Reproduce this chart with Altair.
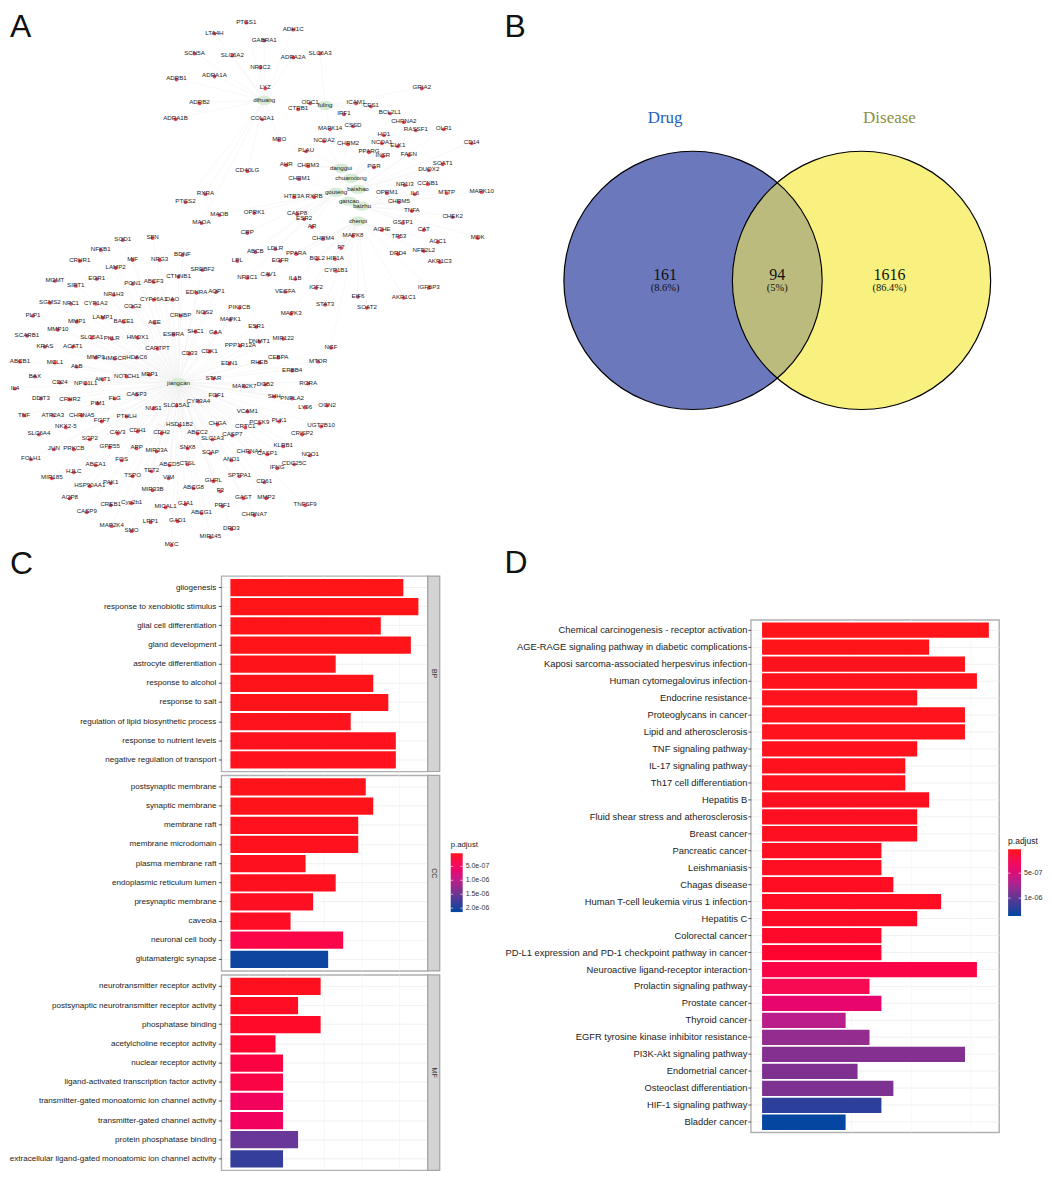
import altair as alt
import pandas as pd

FONT = "Liberation Sans"

# ---------- Panel A: herb / target network (layout position of every node) ----------
herb_names = ["dihuang", "fuling", "danggui", "chuanxiong", "baishao", "gouteng", "gancao", "baizhu", "chenpi", "jiangcan"]
herb_x = [263, 324, 340, 350, 357, 335, 348, 361, 357, 177]
herb_y = [99, 104, 167, 177, 188, 191, 200, 205, 220, 382]

gene_names_1 = ["PTGS1", "LTA4H", "SCN5A", "SLC6A2", "ADRB1", "ADRA1A", "ADRB2", "ADRA1B", "GABRA1", "NR3C2",
                "COL3A1", "CD40LG", "RXRA", "PTGS2", "MAOB", "MAOA", "OPRK1", "CRP", "ABCB", "SOD1",
                "SFN", "NFKB1", "MIF", "NRG3", "BDNF", "LPL", "CRHR1", "LAMP2", "SREBF2"]
gene_x_1 = [245, 213, 193, 231, 175, 213, 198, 174, 263, 259,
            261, 246, 204, 184, 218, 200, 253, 246, 254, 121,
            151, 99, 131, 158, 181, 236, 78, 114, 201]
gene_y_1 = [20, 31, 51, 53, 77, 74, 101, 117, 38, 65,
            117, 169, 192, 200, 213, 221, 211, 231, 250, 238,
            236, 248, 258, 258, 253, 259, 259, 266, 268]

gene_names_2 = ["ADH1C", "ADRA2A", "SLC6A3", "LYZ", "GRIA2", "ODC1", "CTRB1", "ICAM1", "CES1", "BCL2L1",
                "IRF1", "CHRNA2", "RASSF1", "OLR1", "MAPK14", "CSSD", "MPO", "NCOA2", "CHRM2", "HO1",
                "NCOA1", "ELK1", "CD14", "PLAU", "PPARG", "INSR", "FASN", "AHR", "CHRM3", "PGR",
                "SOAT1", "DUOX2", "CHRM1", "NR1I3", "CCNB1", "HTR3A", "RXRB", "OPRM1", "IL6", "MTTP",
                "MAPK10", "CHRM5", "TNFA", "CHEK2", "CASP8", "ESR2", "GSTP1", "AR", "ACHE", "CAT",
                "MAPK8", "TP53", "MDK", "CHRM4", "AOC1", "F7", "LDLR", "NFE2L2", "PPARA", "DRD4",
                "BCL2", "HIF1A", "EGFR", "AKR1C3", "CYP1B1"]
gene_x_2 = [292, 292, 319, 264, 421, 309, 297, 355, 370, 389,
            343, 403, 415, 443, 329, 352, 278, 323, 347, 383,
            381, 397, 471, 305, 368, 382, 408, 285, 307, 373,
            442, 428, 298, 404, 427, 293, 313, 386, 414, 446,
            481, 398, 411, 452, 296, 303, 402, 311, 381, 423,
            352, 398, 477, 322, 437, 340, 274, 423, 295, 397,
            316, 334, 279, 439, 335]
gene_y_2 = [27, 55, 51, 86, 86, 101, 107, 101, 104, 111,
            112, 120, 128, 127, 127, 124, 138, 139, 142, 133,
            141, 144, 141, 149, 150, 154, 153, 163, 164, 165,
            162, 168, 177, 183, 182, 195, 195, 191, 192, 191,
            190, 200, 209, 215, 212, 217, 221, 225, 228, 228,
            234, 235, 236, 237, 240, 246, 247, 249, 252, 252,
            257, 257, 259, 260, 269]

gene_names_3 = ["MGMT", "SIRT1", "EGR1", "PON1", "ABCF3", "CTNNB1", "NR3C1", "NR1H3", "CYP46A1", "DAO",
                "EDNRA", "AQP1", "SGMS2", "NPC1", "CYP1A2", "COG2", "PIK3CB", "PLP1", "MMP1", "LAMP1",
                "BACE1", "ACE", "CRHBP", "NOS2", "MAPK1", "MMP10", "ESR1", "SCARB1", "SLC5A1", "PKLR",
                "HMOX1", "ESRRA", "SHC1", "GAA", "KRAS", "ACAT1", "CARTPT", "PPP1R12A", "DNMT1", "MIR122",
                "CDK1", "CD33", "ABCB1", "MCL1", "MMP9", "HMGCR", "HDAC6", "ALB", "EDN1", "RHEB",
                "CEBPA", "MTOR", "NGF", "BAX", "CD24", "NPC1L1", "AKT1", "NOTCH1", "MEP1", "STAR",
                "MAP2K7", "ERBB4", "RORA", "IL4", "DDIT3", "CRHR2", "PIM1", "FLG", "CASP3", "SLC15A1",
                "CYP3A4", "FGF1", "DGB2", "SHH", "PNPLA2", "LY96", "OGN2", "TNF", "ATP2A3", "CHRNA5",
                "NUS1", "PTHLH", "VCAM1", "PLK1", "FGF7", "NKX2-5", "HSD11B2", "CHGA", "CRTC1", "PCSK9",
                "UGT2B10"]
gene_x_3 = [53, 74, 95, 131, 152, 177, 246, 112, 152, 171,
            195, 215, 48, 69, 94, 131, 238, 31, 75, 101,
            122, 153, 179, 203, 229, 56, 255, 25, 90, 110,
            136, 172, 194, 214, 43, 71, 156, 239, 258, 282,
            208, 188, 18, 53, 94, 113, 135, 75, 228, 258,
            277, 317, 330, 33, 58, 84, 101, 125, 148, 212,
            243, 291, 307, 13, 39, 68, 96, 113, 135, 175,
            197, 215, 264, 273, 291, 304, 326, 22, 51, 80,
            152, 125, 246, 278, 100, 64, 178, 216, 244, 258,
            320]
gene_y_3 = [279, 284, 277, 282, 280, 275, 276, 293, 298, 298,
            291, 290, 301, 302, 302, 305, 306, 314, 320, 316,
            320, 321, 314, 311, 318, 328, 325, 334, 336, 337,
            336, 333, 330, 331, 345, 345, 347, 344, 340, 337,
            350, 352, 360, 361, 356, 357, 356, 365, 362, 361,
            356, 360, 346, 375, 381, 382, 378, 375, 373, 377,
            385, 369, 382, 387, 397, 398, 402, 397, 393, 404,
            400, 394, 383, 395, 397, 406, 404, 414, 414, 414,
            407, 415, 410, 420, 420, 426, 424, 423, 426, 422,
            425]

gene_names_4 = ["SLC6A4", "CDH1", "CAV3", "CDH2", "ABCC2", "CASP7", "SLC1A3", "CRISP2", "SCP2", "KLRB1",
                "SNX8", "JUN", "PRKCB", "GPR55", "APP", "MIR33A", "SCAP", "CHRNA4", "CASP1", "NQO1",
                "CDC25C", "FOLH1", "ANO1", "IFNG", "FOS", "ABCA1", "ABCD5", "CTSL", "TET2", "HJLC",
                "TSPO", "MIR185", "VIM", "SPTPA1", "GHRL", "CD61", "HSP90AA1", "PAK1", "MIR33B", "ABCG8",
                "F3", "AQP8", "GAST", "MMP2", "CREB1", "Cyp2b1", "MICAL1", "GJA1", "PRF1", "TNFSF9",
                "CASP9", "ABCG1", "CHRNA7", "MAP2K4", "LRP1", "GAD1", "SMO", "DRD3", "MIR145", "MYC",
                "MAPK3", "VEGFA", "IGF2", "STAT3", "EIF6", "SOAT2", "AKR1C1", "IGFBP3", "CAV1", "IL1B"]
gene_x_4 = [37, 136, 116, 160, 196, 231, 211, 301, 88, 282,
            186, 52, 72, 108, 135, 155, 209, 248, 266, 309,
            293, 29, 230, 276, 120, 94, 168, 186, 150, 72,
            131, 50, 167, 238, 212, 263, 88, 109, 151, 192,
            219, 68, 242, 265, 109, 130, 164, 184, 221, 304,
            85, 200, 253, 110, 149, 176, 130, 230, 209, 170,
            290, 284, 315, 324, 357, 366, 403, 428, 267, 294]
gene_y_4 = [433, 430, 432, 432, 432, 434, 438, 433, 438, 445,
            447, 448, 448, 446, 447, 450, 452, 451, 453, 454,
            463, 458, 459, 467, 459, 464, 464, 463, 470, 471,
            475, 477, 477, 475, 480, 481, 485, 482, 489, 487,
            490, 497, 497, 497, 504, 502, 506, 503, 505, 504,
            511, 512, 514, 525, 521, 520, 530, 528, 536, 544,
            312, 290, 286, 303, 295, 306, 296, 286, 273, 277]

left_letter_names = ["A", "C"]
left_letter_x = [8, 8]
left_letter_y = [35, 574]
right_letter_names = ["B", "D"]
right_letter_x = [504, 504]
right_letter_y = [35, 573]

# ---------- Panel B: Venn counts ----------
venn_names = ["Drug", "Disease"]
venn_label_x = [665, 890]
venn_colors = ["#1f5fbf", "#8b9140"]
venn_counts = ["161", "94", "1616"]
venn_shares = ["(8.6%)", "(5%)", "(86.4%)"]
venn_count_x = [665, 777.5, 890]
venn_circle_x = [693, 862]
venn_circle_y = [279.5, 279.5]
venn_circle_fill = ["#6c78bc", "#f8f180"]

# ---------- Panel C: GO enrichment ----------
bp_terms = ["gliogenesis", "response to xenobiotic stimulus", "glial cell differentiation", "gland development",
            "astrocyte differentiation", "response to alcohol", "response to salt",
            "regulation of lipid biosynthetic process", "response to nutrient levels",
            "negative regulation of transport"]
bp_count = [23, 25, 20, 24, 14, 19, 21, 16, 22, 22]
bp_padj = [3e-8, 3e-8, 3.5e-8, 3.5e-8, 4e-8, 4e-8, 4e-8, 4.5e-8, 5e-8, 5e-8]

cc_terms = ["postsynaptic membrane", "synaptic membrane", "membrane raft", "membrane microdomain",
            "plasma membrane raft", "endoplasmic reticulum lumen", "presynaptic membrane", "caveola",
            "neuronal cell body", "glutamatergic synapse"]
cc_count = [18, 19, 17, 17, 10, 14, 11, 8, 15, 13]
cc_padj = [4e-8, 4e-8, 5e-8, 5e-8, 6e-8, 6e-8, 7e-8, 8e-8, 3e-7, 2.1e-6]

mf_terms = ["neurotransmitter receptor activity", "postsynaptic neurotransmitter receptor activity",
            "phosphatase binding", "acetylcholine receptor activity", "nuclear receptor activity",
            "ligand-activated transcription factor activity", "transmitter-gated monoatomic ion channel activity",
            "transmitter-gated channel activity", "protein phosphatase binding",
            "extracellular ligand-gated monoatomic ion channel activity"]
mf_count = [12, 9, 12, 6, 7, 7, 7, 7, 9, 7]
mf_padj = [6e-8, 8e-8, 1e-7, 1.5e-7, 2.6e-7, 2.8e-7, 4.6e-7, 4.8e-7, 1.55e-6, 1.85e-6]

# ---------- Panel D: KEGG enrichment ----------
kegg_terms = ["Chemical carcinogenesis - receptor activation", "AGE-RAGE signaling pathway in diabetic complications",
              "Kaposi sarcoma-associated herpesvirus infection", "Human cytomegalovirus infection",
              "Endocrine resistance", "Proteoglycans in cancer", "Lipid and atherosclerosis",
              "TNF signaling pathway", "IL-17 signaling pathway", "Th17 cell differentiation", "Hepatitis B",
              "Fluid shear stress and atherosclerosis", "Breast cancer", "Pancreatic cancer", "Leishmaniasis",
              "Chagas disease", "Human T-cell leukemia virus 1 infection", "Hepatitis C", "Colorectal cancer",
              "PD-L1 expression and PD-1 checkpoint pathway in cancer", "Neuroactive ligand-receptor interaction",
              "Prolactin signaling pathway", "Prostate cancer", "Thyroid cancer",
              "EGFR tyrosine kinase inhibitor resistance", "PI3K-Akt signaling pathway", "Endometrial cancer",
              "Osteoclast differentiation", "HIF-1 signaling pathway", "Bladder cancer"]
kegg_count = [19, 14, 17, 18, 13, 17, 17, 13, 12, 12, 14, 13, 13, 10, 10, 11, 15, 13, 10, 10, 18, 9, 10, 7, 9, 17,
              8, 11, 10, 7]
kegg_padj = [2.5e-8, 2.5e-8, 3e-8, 3e-8, 3e-8, 3e-8, 3e-8, 3.5e-8, 3.5e-8, 3.5e-8, 4e-8, 4e-8, 4e-8, 4.5e-8, 4.5e-8,
             5e-8, 5e-8, 6e-8, 7e-8, 9e-8, 1.8e-7, 2.3e-7, 3.95e-7, 6.5e-7, 8e-7, 8.6e-7, 8.8e-7, 8.9e-7, 1.2e-6,
             1.35e-6]

# colour ramp of the p.adjust scale, as fractions of its range
ramp_t = [0, 0.15, 0.3, 0.48, 0.63, 0.88, 1]
ramp_colors = ["#ff1518", "#f80c50", "#e60a70", "#b8208c", "#823090", "#2c3f9a", "#0046a0"]

# ---------- Panel A ----------
genes = pd.DataFrame({
    "name": gene_names_1 + gene_names_2 + gene_names_3 + gene_names_4,
    "x": gene_x_1 + gene_x_2 + gene_x_3 + gene_x_4,
    "y": gene_y_1 + gene_y_2 + gene_y_3 + gene_y_4,
})
herbs = pd.DataFrame({"name": herb_names, "x": herb_x, "y": herb_y})


def nearest_herb(px, py):
    return min(range(len(herb_names)), key=lambda i: (herb_x[i] - px) ** 2 + (herb_y[i] - py) ** 2)


edges = genes.copy()
edges["hub"] = [nearest_herb(a, b) for a, b in zip(edges["x"], edges["y"])]
edges["x2"] = [herb_x[i] for i in edges["hub"]]
edges["y2"] = [herb_y[i] for i in edges["hub"]]

# panel A's origin is the left edge of the panel C plots, its marks run on to the left of it
PANEL_GAP = 4
A_X0, A_X1, A_H = 220, 500, 576 - 8 - PANEL_GAP
ax = alt.X("x:Q", scale=alt.Scale(domain=[A_X0, A_X1], nice=False), axis=None)
ay = alt.Y("y:Q", scale=alt.Scale(domain=[8 + A_H, 8], nice=False), axis=None)

edge_layer = alt.Chart(edges).mark_rule(color="#f1f1f1", strokeWidth=0.5).encode(x=ax, y=ay, x2="x2:Q", y2="y2:Q")
herb_layer = alt.Chart(herbs).mark_point(
    filled=True, opacity=1, color="#d6ecd6",
    shape="M-8,0 A8,4.5 0 1 1 8,0 A8,4.5 0 1 1 -8,0 Z", size=4,
).encode(x=ax, y=ay)
gene_layer = alt.Chart(genes).mark_circle(size=15, color="#ea4555", opacity=0.95, yOffset=1).encode(x=ax, y=ay)
gene_text = alt.Chart(genes).mark_text(fontSize=6.2, color="#1c1c1c").encode(x=ax, y=ay, text="name:N")
herb_text = alt.Chart(herbs).mark_text(fontSize=6.2, color="#1c1c1c").encode(x=ax, y=ay, text="name:N")
left_letters = pd.DataFrame({"name": left_letter_names, "x": left_letter_x, "y": left_letter_y})
letter_text = alt.Chart(left_letters).mark_text(fontSize=32, color="#111111", align="left",
                                                baseline="alphabetic").encode(x=ax, y=ay, text="name:N")
panel_a = alt.layer(edge_layer, herb_layer, gene_layer, gene_text, herb_text, letter_text).properties(
    width=A_X1 - A_X0, height=A_H)

# ---------- Panel B ----------
# panel B's origin is the left edge of the panel D plot
B_X0, B_X1, B_H = 751, 1040, 590
bx = alt.X("x:Q", scale=alt.Scale(domain=[B_X0, B_X1], nice=False), axis=None)
by = alt.Y("y:Q", scale=alt.Scale(domain=[8 + B_H, 8], nice=False), axis=None)
circles = pd.DataFrame({"x": venn_circle_x, "y": venn_circle_y, "fill": venn_circle_fill})
circle_fill = alt.Chart(circles).mark_point(filled=True, opacity=1, shape="circle", size=67081).encode(
    x=bx, y=by, color=alt.Color("fill:N", scale=None))
lens = pd.DataFrame({"x": [777.5], "y": [279.5]})
lens_fill = alt.Chart(lens).mark_point(
    filled=True, opacity=1, color="#bcbb7e", size=4,
    shape="M0,-97.5 A129.5,129.5 0 0 1 0,97.5 A129.5,129.5 0 0 1 0,-97.5 Z",
).encode(x=bx, y=by)
circle_line = alt.Chart(circles).mark_point(
    filled=False, opacity=1, shape="circle", size=67081, color="#000000", strokeWidth=1.2
).encode(x=bx, y=by)
venn_titles = pd.DataFrame({"label": venn_names, "x": venn_label_x, "y": [117, 117], "c": venn_colors})
title_text = alt.Chart(venn_titles).mark_text(font="Liberation Serif", fontSize=17).encode(
    x=bx, y=by, text="label:N", color=alt.Color("c:N", scale=None))
counts_df = pd.DataFrame({"label": venn_counts, "x": venn_count_x, "y": [274] * 3})
shares_df = pd.DataFrame({"label": venn_shares, "x": venn_count_x, "y": [287] * 3})
count_text = alt.Chart(counts_df).mark_text(font="Liberation Serif", fontSize=16, color="#111111").encode(
    x=bx, y=by, text="label:N")
share_text = alt.Chart(shares_df).mark_text(font="Liberation Serif", fontSize=10.5, color="#111111").encode(
    x=bx, y=by, text="label:N")
right_letters = pd.DataFrame({"name": right_letter_names, "x": right_letter_x, "y": right_letter_y})
letter_text_b = alt.Chart(right_letters).mark_text(fontSize=32, color="#111111", align="left",
                                                   baseline="alphabetic").encode(x=bx, y=by, text="name:N")
panel_b = alt.layer(circle_fill, lens_fill, circle_line, title_text, count_text, share_text,
                    letter_text_b).properties(width=B_X1 - B_X0, height=B_H)


# ---------- Bar panels ----------
def colorbar(x0, y0, thick, length, lo, hi, values, labels, title_size, label_size):
    """p.adjust colour bar, smallest value (red) on top."""
    grad = alt.Gradient(gradient="linear", x1=0, x2=0, y1=0, y2=1,
                        stops=[alt.GradientStop(color=c, offset=t) for t, c in zip(ramp_t, ramp_colors)])
    one = pd.DataFrame({"t": ["p.adjust"]})
    out = [alt.Chart(one).mark_rect(fill=grad).encode(
               x=alt.value(x0), x2=alt.value(x0 + thick), y=alt.value(y0), y2=alt.value(y0 + length)),
           alt.Chart(one).mark_text(align="left", fontSize=title_size, color="#222222").encode(
               x=alt.value(x0), y=alt.value(y0 - 8), text="t:N")]
    for v, lab in zip(values, labels):
        py = y0 + (v - lo) / (hi - lo) * length
        d = pd.DataFrame({"t": [lab]})
        out.append(alt.Chart(d).mark_text(align="left", fontSize=label_size, color="#333333").encode(
            x=alt.value(x0 + thick + 3), y=alt.value(py), text="t:N"))
        out.append(alt.Chart(d).mark_rule(color="#ffffff", strokeWidth=0.6).encode(
            x=alt.value(x0), x2=alt.value(x0 + 2.5), y=alt.value(py)))
        out.append(alt.Chart(d).mark_rule(color="#ffffff", strokeWidth=0.6).encode(
            x=alt.value(x0 + thick - 2.5), x2=alt.value(x0 + thick), y=alt.value(py)))
    return out


def bar_panel(terms, counts, padj, domain, width, height, tick_values, minor_values, color_domain,
              label_size, tick_size, title_size, label_pad, show_x=False, strip=None, extra=()):
    df = pd.DataFrame({"term": terms, "Count": counts, "padj": padj})
    x_scale = alt.Scale(domain=domain, nice=False, zero=False)
    x_axis = alt.Axis(values=tick_values, grid=True, gridColor="#ebebeb", gridWidth=0.7, domain=False,
                      labels=show_x, ticks=show_x, tickSize=2, tickColor="#555555", labelColor="#222222",
                      labelFontSize=tick_size, titleFontSize=title_size, titleFontWeight="normal",
                      titleColor="#111111", titlePadding=0, title="Count" if show_x else None, format="d",
                      labelPadding=1)
    y_axis = alt.Axis(grid=True, gridColor="#ebebeb", gridWidth=0.7, domain=False, ticks=True, tickSize=3,
                      tickColor="#555555", labelColor="#222222", labelFontSize=label_size, labelLimit=500,
                      labelPadding=label_pad, title=None)
    y_enc = alt.Y("term:N", sort=terms, axis=y_axis, scale=alt.Scale(paddingInner=0.1, paddingOuter=0.15))
    lo, hi = color_domain
    color_scale = alt.Scale(domain=[lo + t * (hi - lo) for t in ramp_t], range=ramp_colors, nice=False, zero=False)
    bars = alt.Chart(df).mark_bar().encode(
        x=alt.X("Count:Q", scale=x_scale, axis=x_axis),
        y=y_enc,
        color=alt.Color("padj:Q", scale=color_scale, legend=None),
    )
    minor = alt.Chart(pd.DataFrame({"Count": minor_values})).mark_rule(color="#f4f4f4", strokeWidth=0.6).encode(
        x=alt.X("Count:Q", scale=x_scale, axis=None))
    layers = [minor, bars]
    if strip:
        s = pd.DataFrame({"strip": [strip]})
        layers.append(alt.Chart(s).mark_rect(fill="#d3d3d3", stroke="#a3a3a3", strokeWidth=1.2).encode(
            x=alt.value(width), x2=alt.value(width + 12), y=alt.value(0), y2=alt.value(height)))
        layers.append(alt.Chart(s).mark_text(angle=90, fontSize=7, color="#333333").encode(
            x=alt.value(width + 6), y=alt.value(height / 2), text="strip:N"))
    layers.extend(extra)
    return alt.layer(*layers).properties(
        width=width, height=height, view=alt.ViewBackground(stroke="#b0b0b0", strokeWidth=1.4))


C_H = 196
c_ticks = [0, 5, 10, 15, 20, 25]
c_minor = [2.5, 7.5, 12.5, 17.5, 22.5]
c_dom = [-1.2, 26.25]
c_color = [3e-8, 2.14e-6]
c_bar = colorbar(230, 78, 12, 59, c_color[0], c_color[1], [5e-7, 1e-6, 1.5e-6, 2e-6],
                 ["5.0e-07", "1.0e-06", "1.5e-06", "2.0e-06"], 7.8, 7)
panel_bp = bar_panel(bp_terms, bp_count, bp_padj, c_dom, 207, C_H, c_ticks, c_minor, c_color, 8.1, 8, 8.5, 2.5,
                     strip="BP")
panel_cc = bar_panel(cc_terms, cc_count, cc_padj, c_dom, 207, C_H, c_ticks, c_minor, c_color, 8.1, 8, 8.5, 2.5,
                     strip="CC", extra=c_bar)
panel_mf = bar_panel(mf_terms, mf_count, mf_padj, c_dom, 207, C_H, c_ticks, c_minor, c_color, 8.1, 8, 8.5, 2.5,
                     show_x=True, strip="MF")

d_color = [2e-8, 1.36e-6]
d_bar = colorbar(258, 230, 13, 67, d_color[0], d_color[1], [5e-7, 1e-6], ["5e-07", "1e-06"], 8.5, 7.2)
panel_d = bar_panel(kegg_terms, kegg_count, kegg_padj, [-0.94, 19.86], 249, 514, [0, 5, 10, 15],
                    [2.5, 7.5, 12.5, 17.5], d_color, 9.4, 8.5, 9.5, 1, show_x=True, extra=d_bar)

left = alt.vconcat(panel_a, panel_bp, panel_cc, panel_mf, spacing=PANEL_GAP, bounds="flush").resolve_scale(
    color="independent")
right = alt.vconcat(panel_b, panel_d, spacing=22, bounds="flush").resolve_scale(color="independent")
chart = (alt.hconcat(left, right, spacing=3).resolve_scale(color="independent")
         .properties(padding=0).configure(font=FONT).configure_view(stroke=None))

chart.save("out.html", embed_options={"renderer": "svg", "actions": False})
